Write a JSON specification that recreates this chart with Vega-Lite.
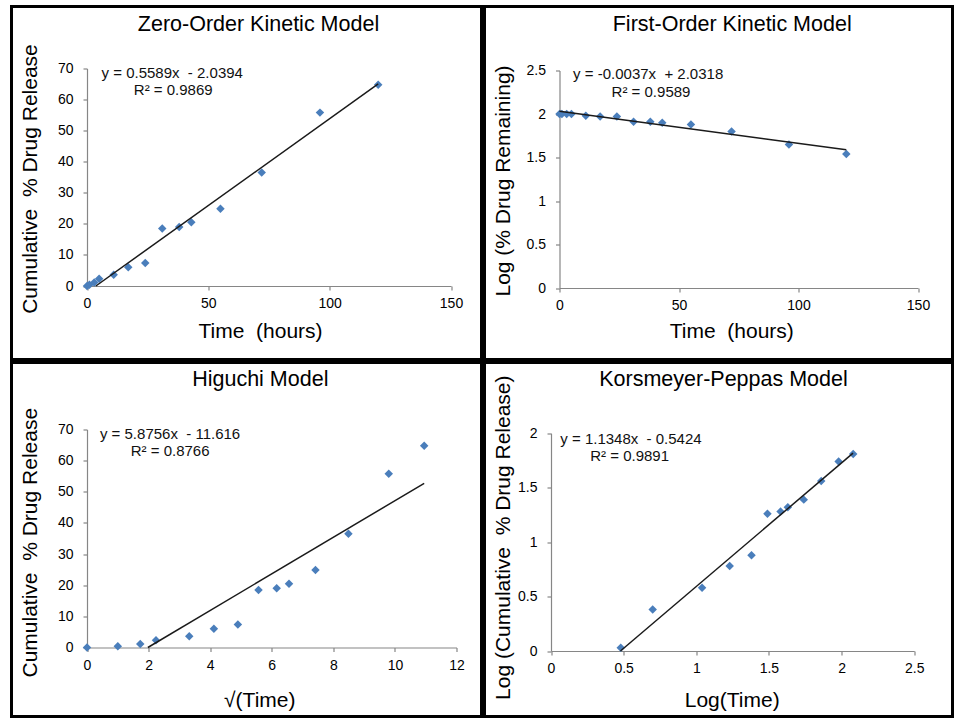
{
  "$schema": "https://vega.github.io/schema/vega-lite/v6.json",
  "padding": {"left": 9.5, "top": 4.5, "right": 0, "bottom": 0},
  "background": "white",
  "columns": 2,
  "spacing": 3,
  "bounds": "flush",
  "datasets": {
    "zero": [
      {"time": 0, "release": 0}, {"time": 1, "release": 0.4}, {"time": 3, "release": 1.1},
      {"time": 5, "release": 2.3}, {"time": 11, "release": 3.6}, {"time": 17, "release": 6.0},
      {"time": 24, "release": 7.4}, {"time": 31, "release": 18.5}, {"time": 38, "release": 19.0},
      {"time": 43, "release": 20.5}, {"time": 55, "release": 24.9}, {"time": 72, "release": 36.5},
      {"time": 96, "release": 55.8}, {"time": 120, "release": 64.8}
    ],
    "zeroFit": [{"time": 3.65, "release": 0}, {"time": 120, "release": 65.03}],
    "first": [
      {"time": 0, "logrem": 2.0}, {"time": 1, "logrem": 2.0}, {"time": 3, "logrem": 2.0},
      {"time": 5, "logrem": 2.0}, {"time": 11, "logrem": 1.98}, {"time": 17, "logrem": 1.97},
      {"time": 24, "logrem": 1.97}, {"time": 31, "logrem": 1.91}, {"time": 38, "logrem": 1.91},
      {"time": 43, "logrem": 1.9}, {"time": 55, "logrem": 1.88}, {"time": 72, "logrem": 1.8},
      {"time": 96, "logrem": 1.65}, {"time": 120, "logrem": 1.54}
    ],
    "firstFit": [{"time": 0, "logrem": 2.032}, {"time": 120, "logrem": 1.588}],
    "higuchi": [
      {"sqrt": 0, "release": 0}, {"sqrt": 1, "release": 0.4}, {"sqrt": 1.73, "release": 1.1},
      {"sqrt": 2.24, "release": 2.3}, {"sqrt": 3.32, "release": 3.6}, {"sqrt": 4.12, "release": 6.0},
      {"sqrt": 4.9, "release": 7.4}, {"sqrt": 5.57, "release": 18.5}, {"sqrt": 6.16, "release": 19.0},
      {"sqrt": 6.56, "release": 20.5}, {"sqrt": 7.42, "release": 24.9}, {"sqrt": 8.49, "release": 36.5},
      {"sqrt": 9.8, "release": 55.8}, {"sqrt": 10.95, "release": 64.8}
    ],
    "higuchiFit": [{"sqrt": 1.977, "release": 0}, {"sqrt": 10.95, "release": 52.72}],
    "kp": [
      {"logt": 0.48, "logrel": 0.03}, {"logt": 0.7, "logrel": 0.38}, {"logt": 1.04, "logrel": 0.58},
      {"logt": 1.23, "logrel": 0.78}, {"logt": 1.38, "logrel": 0.88}, {"logt": 1.49, "logrel": 1.26},
      {"logt": 1.58, "logrel": 1.28}, {"logt": 1.63, "logrel": 1.32}, {"logt": 1.74, "logrel": 1.39},
      {"logt": 1.86, "logrel": 1.56}, {"logt": 1.98, "logrel": 1.74}, {"logt": 2.08, "logrel": 1.81}
    ],
    "kpFit": [{"logt": 0.478, "logrel": 0}, {"logt": 2.079, "logrel": 1.817}],
    "eq": [
      {"panel": "zero", "line": 1, "label": "y = 0.5589x\u00a0\u00a0- 2.0394"},
      {"panel": "zero", "line": 2, "label": "R² = 0.9869"},
      {"panel": "first", "line": 1, "label": "y = -0.0037x\u00a0\u00a0+ 2.0318"},
      {"panel": "first", "line": 2, "label": "R² = 0.9589"},
      {"panel": "higuchi", "line": 1, "label": "y = 5.8756x\u00a0\u00a0- 11.616"},
      {"panel": "higuchi", "line": 2, "label": "R² = 0.8766"},
      {"panel": "kp", "line": 1, "label": "y = 1.1348x\u00a0\u00a0- 0.5424"},
      {"panel": "kp", "line": 2, "label": "R² = 0.9891"}
    ]
  },
  "config": {
    "view": {"stroke": "#000000", "strokeWidth": 3, "fill": "white"},
    "font": "Liberation Sans",
    "axis": {
      "grid": false,
      "domainColor": "#868686",
      "domainWidth": 1.2,
      "tickColor": "#868686",
      "tickSize": 4,
      "tickWidth": 1.2,
      "labelFont": "Liberation Sans",
      "labelFontSize": 14,
      "labelColor": "#000000",
      "titleFont": "Liberation Sans",
      "titleFontSize": 21,
      "titleFontWeight": "normal",
      "titleColor": "#000000",
      "titleBaseline": "alphabetic",
      "titleAlign": "center"
    },
    "axisX": {"labelPadding": 6.5, "labelFlush": false, "labelOverlap": false},
    "axisY": {"labelPadding": 10, "titleAngle": 270, "labelOverlap": false},
    "title": {
      "font": "Liberation Sans",
      "fontSize": 21.5,
      "fontWeight": "normal",
      "color": "#000000",
      "frame": "group",
      "anchor": "middle",
      "baseline": "alphabetic",
      "offset": 0
    },
    "point": {"shape": "diamond", "filled": true, "size": 72, "color": "#4A7EBB", "opacity": 1},
    "line": {"color": "#1a1a1a", "strokeWidth": 1.5},
    "text": {"align": "left", "baseline": "alphabetic", "fontSize": 15, "font": "Liberation Sans", "color": "#111111"}
  },
  "concat": [
    {
      "width": 470, "height": 353,
      "title": {"text": "Zero-Order Kinetic Model", "dx": 12, "dy": 33.2},
      "layer": [
        {
          "data": {"name": "zero"},
          "mark": {"type": "point"},
          "encoding": {
            "x": {"field": "time", "type": "quantitative",
              "scale": {"domain": [0, 150], "range": [75.5, 439.5], "nice": false, "zero": false},
              "axis": {"values": [0, 50, 100, 150], "title": "Time\u00a0 (hours)", "offset": -73.5, "titleX": 248.5, "titleY": 51}},
            "y": {"field": "release", "type": "quantitative",
              "scale": {"domain": [0, 70], "range": [279.5, 62], "nice": false, "zero": false},
              "axis": {"values": [0, 10, 20, 30, 40, 50, 60, 70], "title": "Cumulative\u00a0 % Drug Release", "offset": -75.5, "titleX": -50.5, "titleY": 172}}
          }
        },
        {
          "data": {"name": "zeroFit"},
          "mark": {"type": "line"},
          "encoding": {"x": {"field": "time", "type": "quantitative"}, "y": {"field": "release", "type": "quantitative"}}
        },
        {
          "data": {"name": "eq"},
          "transform": [{"filter": "datum.panel === 'zero' && datum.line === 1"}],
          "mark": {"type": "text"},
          "encoding": {"x": {"datum": 6}, "y": {"datum": 67}, "text": {"field": "label"}}
        },
        {
          "data": {"name": "eq"},
          "transform": [{"filter": "datum.panel === 'zero' && datum.line === 2"}],
          "mark": {"type": "text"},
          "encoding": {"x": {"datum": 19.3}, "y": {"datum": 61.4}, "text": {"field": "label"}}
        }
      ]
    },
    {
      "width": 468, "height": 353,
      "title": {"text": "First-Order Kinetic Model", "dx": 13.7, "dy": 33.2},
      "layer": [
        {
          "data": {"name": "first"},
          "mark": {"type": "point"},
          "encoding": {
            "x": {"field": "time", "type": "quantitative",
              "scale": {"domain": [0, 150], "range": [75, 433.5], "nice": false, "zero": false},
              "axis": {"values": [0, 50, 100, 150], "title": "Time\u00a0 (hours)", "offset": -71.5, "titleX": 246.8, "titleY": 49}},
            "y": {"field": "logrem", "type": "quantitative",
              "scale": {"domain": [0, 2.5], "range": [281.5, 64], "nice": false, "zero": false},
              "axis": {"values": [0, 0.5, 1, 1.5, 2, 2.5], "format": "~g", "title": "Log (% Drug Remaining)", "offset": -75, "titleX": -50.5, "titleY": 174}}
          }
        },
        {
          "data": {"name": "firstFit"},
          "mark": {"type": "line"},
          "encoding": {"x": {"field": "time", "type": "quantitative"}, "y": {"field": "logrem", "type": "quantitative"}}
        },
        {
          "data": {"name": "eq"},
          "transform": [{"filter": "datum.panel === 'first' && datum.line === 1"}],
          "mark": {"type": "text"},
          "encoding": {"x": {"datum": 5.7}, "y": {"datum": 2.405}, "text": {"field": "label"}}
        },
        {
          "data": {"name": "eq"},
          "transform": [{"filter": "datum.panel === 'first' && datum.line === 2"}],
          "mark": {"type": "text"},
          "encoding": {"x": {"datum": 21.8}, "y": {"datum": 2.195}, "text": {"field": "label"}}
        }
      ]
    },
    {
      "width": 470, "height": 354,
      "title": {"text": "Higuchi Model", "dx": 13.8, "dy": 32.2},
      "layer": [
        {
          "data": {"name": "higuchi"},
          "mark": {"type": "point"},
          "encoding": {
            "x": {"field": "sqrt", "type": "quantitative",
              "scale": {"domain": [0, 12], "range": [75.5, 445], "nice": false, "zero": false},
              "axis": {"values": [0, 2, 4, 6, 8, 10, 12], "title": "√(Time)", "offset": -69, "titleX": 247.8, "titleY": 58.7}},
            "y": {"field": "release", "type": "quantitative",
              "scale": {"domain": [0, 70], "range": [285, 67], "nice": false, "zero": false},
              "axis": {"values": [0, 10, 20, 30, 40, 50, 60, 70], "title": "Cumulative\u00a0 % Drug Release", "offset": -75.5, "titleX": -50.5, "titleY": 179.7}}
          }
        },
        {
          "data": {"name": "higuchiFit"},
          "mark": {"type": "line"},
          "encoding": {"x": {"field": "sqrt", "type": "quantitative"}, "y": {"field": "release", "type": "quantitative"}}
        },
        {
          "data": {"name": "eq"},
          "transform": [{"filter": "datum.panel === 'higuchi' && datum.line === 1"}],
          "mark": {"type": "text"},
          "encoding": {"x": {"datum": 0.42}, "y": {"datum": 67.0}, "text": {"field": "label"}}
        },
        {
          "data": {"name": "eq"},
          "transform": [{"filter": "datum.panel === 'higuchi' && datum.line === 2"}],
          "mark": {"type": "text"},
          "encoding": {"x": {"datum": 1.42}, "y": {"datum": 61.5}, "text": {"field": "label"}}
        }
      ]
    },
    {
      "width": 468, "height": 354,
      "title": {"text": "Korsmeyer-Peppas Model", "dx": 5, "dy": 32.2},
      "layer": [
        {
          "data": {"name": "kp"},
          "mark": {"type": "point"},
          "encoding": {
            "x": {"field": "logt", "type": "quantitative",
              "scale": {"domain": [0, 2.5], "range": [66.5, 429.7], "nice": false, "zero": false},
              "axis": {"values": [0, 0.5, 1, 1.5, 2, 2.5], "format": "~g", "title": "Log(Time)", "offset": -65.5, "titleX": 247.2, "titleY": 55.7}},
            "y": {"field": "logrel", "type": "quantitative",
              "scale": {"domain": [0, 2], "range": [288.5, 70.7], "nice": false, "zero": false},
              "axis": {"values": [0, 0.5, 1, 1.5, 2], "format": "~g", "title": "Log (Cumulative\u00a0 % Drug Release)", "offset": -66.5, "titleX": -42, "titleY": 174.7}}
          }
        },
        {
          "data": {"name": "kpFit"},
          "mark": {"type": "line"},
          "encoding": {"x": {"field": "logt", "type": "quantitative"}, "y": {"field": "logrel", "type": "quantitative"}}
        },
        {
          "data": {"name": "eq"},
          "transform": [{"filter": "datum.panel === 'kp' && datum.line === 1"}],
          "mark": {"type": "text"},
          "encoding": {"x": {"datum": 0.064}, "y": {"datum": 1.905}, "text": {"field": "label"}}
        },
        {
          "data": {"name": "eq"},
          "transform": [{"filter": "datum.panel === 'kp' && datum.line === 2"}],
          "mark": {"type": "text"},
          "encoding": {"x": {"datum": 0.27}, "y": {"datum": 1.743}, "text": {"field": "label"}}
        }
      ]
    }
  ]
}
